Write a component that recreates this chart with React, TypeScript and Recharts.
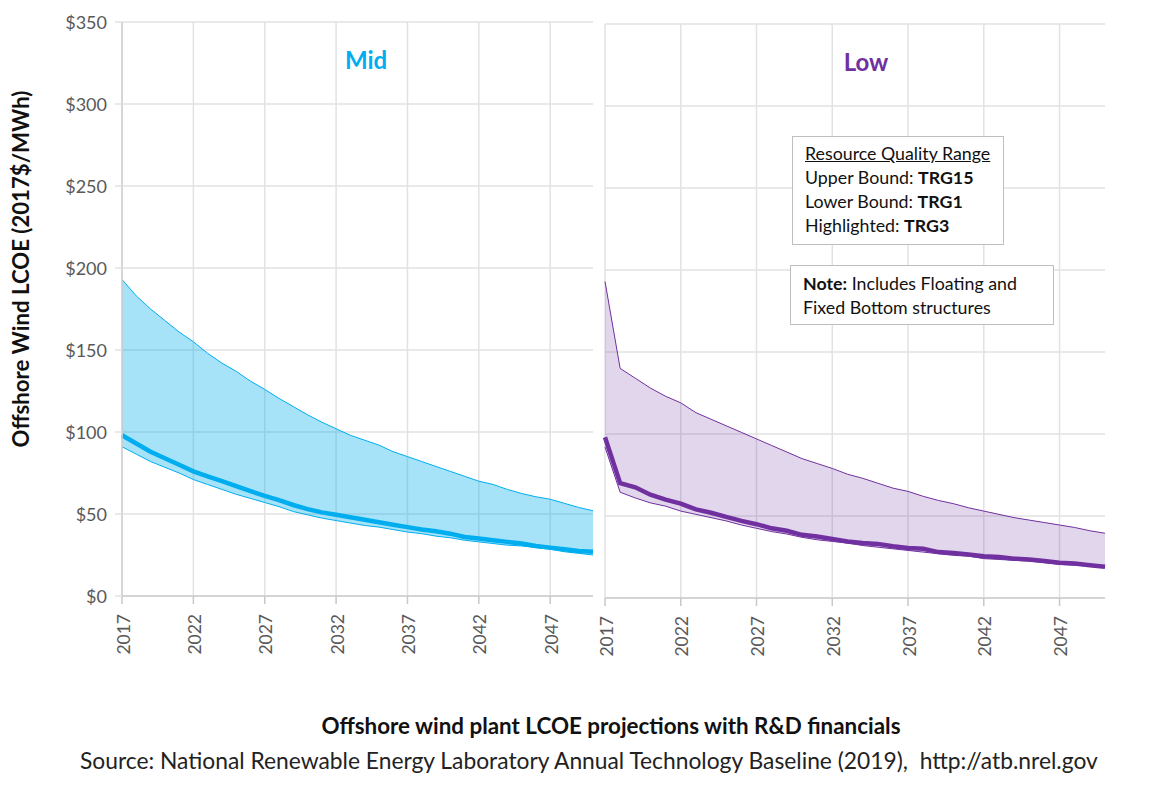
import React from "react";
import { ComposedChart, Area, Line, XAxis, YAxis, CartesianGrid } from "recharts";

const years = [2017,2018,2019,2020,2021,2022,2023,2024,2025,2026,2027,2028,2029,2030,2031,2032,2033,2034,2035,2036,2037,2038,2039,2040,2041,2042,2043,2044,2045,2046,2047,2048,2049,2050];
const xTicks = [2017,2022,2027,2032,2037,2042,2047];
const yTicks = [0,50,100,150,200,250,300,350];

const midUpper = [193,183,175,168,161,155,148,142,137,131,126,120.5,115.5,110.5,106,102,98,95,92,88,85,82,79,76,73,70,68,65,62.5,60.5,59,56.5,54,52];
const midHighlight = [98,93,88,84,80,76,73,70,67,64,61,58.5,55.5,53,51,49.5,48,46.5,45,43.5,42,40.5,39.5,38,36,35,34,33,32,30.5,29.5,28.5,27.5,27];
const midLower = [91,86.5,82,78.5,75,71,68,65,62,59.5,57,54.5,51.5,49.5,47.5,46,44.5,43,42,40.5,39,38,36.5,35.5,34,33,32,31,30.5,29.5,28.5,27,26,25];

const lowUpper = [193,140,134,128,123,119,113,109,105,101,97,93,89,85,82,79,75.5,73,70,67,65,62,59.5,57.5,55,53,51,49,47.5,46,44.5,43,41,39.5];
const lowHighlight = [98,70,67.5,63,60,57.5,54,52,49.5,47,45,42.5,41,38.5,37.5,36,34.5,33.5,33,31.5,30.5,30,28,27.5,26.5,25.5,25,24,23.5,22.5,21.5,21,20,19];
const lowLower = [92,64.5,61,58,56,53,51,49,47,44.5,42.5,40.5,39,37,35.5,34.5,33.5,32,31,30,29,28,27,26,25.5,24,23.5,23,22.5,21.5,20.5,20,19.5,18.5];

const build = (u: number[], h: number[], l: number[]) =>
  years.map((year, i) => ({ year, upper: u[i], high: h[i], lower: l[i], band: [l[i], u[i]] }));

const FONT = "Lato, Carlito, 'Open Sans', sans-serif";
const GREY = "#595959";

const XTick = (p: any) => (
  <text
    x={p.x + 1}
    y={p.y + 8}
    transform={`rotate(-90 ${p.x + 1} ${p.y + 8})`}
    textAnchor="end"
    dominantBaseline="central"
    fill={GREY}
    fontFamily={FONT}
    fontSize={17.5}
  >
    {p.payload.value}
  </text>
);
const YTick = (p: any) => (
  <text x={107} y={p.y} textAnchor="end" dominantBaseline="central" fill={GREY} fontFamily={FONT} fontSize={18}>
    {"$" + p.payload.value}
  </text>
);

type PanelProps = {
  data: any[]; color: string; fillOpacity: number; left: number; width: number; plotLeft: number; plotRight: number; top: number; bottom: number; showY: boolean;
};

const GRID = "#e2e2e2";

const Panel = ({ data, color, fillOpacity, left, width, plotLeft, plotRight, top, bottom, showY }: PanelProps) => (
  <div style={{ position: "absolute", left, top: 0, width, height: 796 }}>
    <ComposedChart
      width={width}
      height={796}
      data={data}
      margin={{ left: showY ? 0 : plotLeft - left, right: left + width - plotRight, top, bottom: 0 }}
    >
      <CartesianGrid stroke={GRID} strokeWidth={1.5} horizontalValues={yTicks} verticalValues={xTicks} />
      <XAxis
        dataKey="year"
        type="number"
        domain={[2017, 2050]}
        ticks={xTicks}
        interval={0}
        height={796 - bottom}
        tick={<XTick />}
        tickLine={{ stroke: "#c8c8c8", strokeWidth: 1.5 }}
        tickSize={8}
        axisLine={{ stroke: "#d4d4d4", strokeWidth: 2 }}
      />
      <YAxis
        type="number"
        domain={[0, 350]}
        ticks={yTicks}
        interval={0}
        width={showY ? plotLeft - left : 0}
        hide={!showY}
        tick={<YTick />}
        tickLine={{ stroke: GRID, strokeWidth: 1.5 }}
        tickSize={7}
        axisLine={{ stroke: "#cfcfcf", strokeWidth: 1.5 }}
      />
      <Area dataKey="band" type="linear" stroke="none" fill={color} fillOpacity={fillOpacity} isAnimationActive={false} dot={false} activeDot={false} />
      <Line dataKey="upper" type="linear" stroke={color} strokeWidth={1} dot={false} activeDot={false} isAnimationActive={false} />
      <Line dataKey="lower" type="linear" stroke={color} strokeWidth={1} dot={false} activeDot={false} isAnimationActive={false} />
      <Line dataKey="high" type="linear" stroke={color} strokeWidth={4.5} dot={false} activeDot={false} isAnimationActive={false} />
    </ComposedChart>
  </div>
);

const abs = (s: React.CSSProperties): React.CSSProperties => ({ position: "absolute", fontFamily: FONT, whiteSpace: "nowrap", ...s });
const boxLine: React.CSSProperties = { fontSize: 17.8, lineHeight: "24px", color: "#111" };

export default function App() {
  return (
    <div style={{ position: "absolute", left: 0, top: 0, width: 1174, height: 796, background: "#fff", overflow: "hidden" }}>
      <Panel data={build(midUpper, midHighlight, midLower)} color="#00AEEF" fillOpacity={0.35} left={0} width={594} plotLeft={122} plotRight={593} top={22} bottom={596} showY />
      <Panel data={build(lowUpper, lowHighlight, lowLower)} color="#7030A0" fillOpacity={0.2} left={594} width={580} plotLeft={605} plotRight={1105} top={24} bottom={598} showY={false} />

      <div style={abs({ left: 266, width: 200, top: 45, textAlign: "center", fontSize: 24, fontWeight: 700, color: "#00AEEF" })}>Mid</div>
      <div style={abs({ left: 766, width: 200, top: 47, textAlign: "center", fontSize: 24, fontWeight: 700, color: "#7030A0" })}>Low</div>

      <div style={abs({ left: 792, top: 136, width: 212, height: 109, background: "#fff", border: "1px solid #bfbfbf", padding: "4px 0 0 12px", boxSizing: "border-box", ...boxLine })}>
        <div style={{ textDecoration: "underline" }}>Resource Quality Range</div>
        <div>Upper Bound: <b>TRG15</b></div>
        <div>Lower Bound: <b>TRG1</b></div>
        <div>Highlighted: <b>TRG3</b></div>
      </div>
      <div style={abs({ left: 790, top: 265, width: 264, height: 60, background: "#fff", border: "1px solid #bfbfbf", padding: "5px 0 0 12px", boxSizing: "border-box", ...boxLine })}>
        <div><b>Note:</b> Includes Floating and</div>
        <div>Fixed Bottom structures</div>
      </div>

      <div style={abs({ left: 20, top: 268.5, width: 0, height: 0, fontSize: 22.2, fontWeight: 700, color: "#111" })}>
        <div style={{ position: "absolute", transform: "translate(-50%,-50%) rotate(-90deg)" }}>Offshore Wind LCOE (2017$/MWh)</div>
      </div>
      <div style={abs({ left: 0, width: 1222, top: 712, textAlign: "center", fontSize: 22.4, fontWeight: 700, color: "#111" })}>Offshore wind plant LCOE projections with R&amp;D financials</div>
      <div style={abs({ left: 80, top: 746, fontSize: 22.8, color: "#222" })}>Source: National Renewable Energy Laboratory Annual Technology Baseline (2019),&nbsp; http://atb.nrel.gov</div>
    </div>
  );
}
